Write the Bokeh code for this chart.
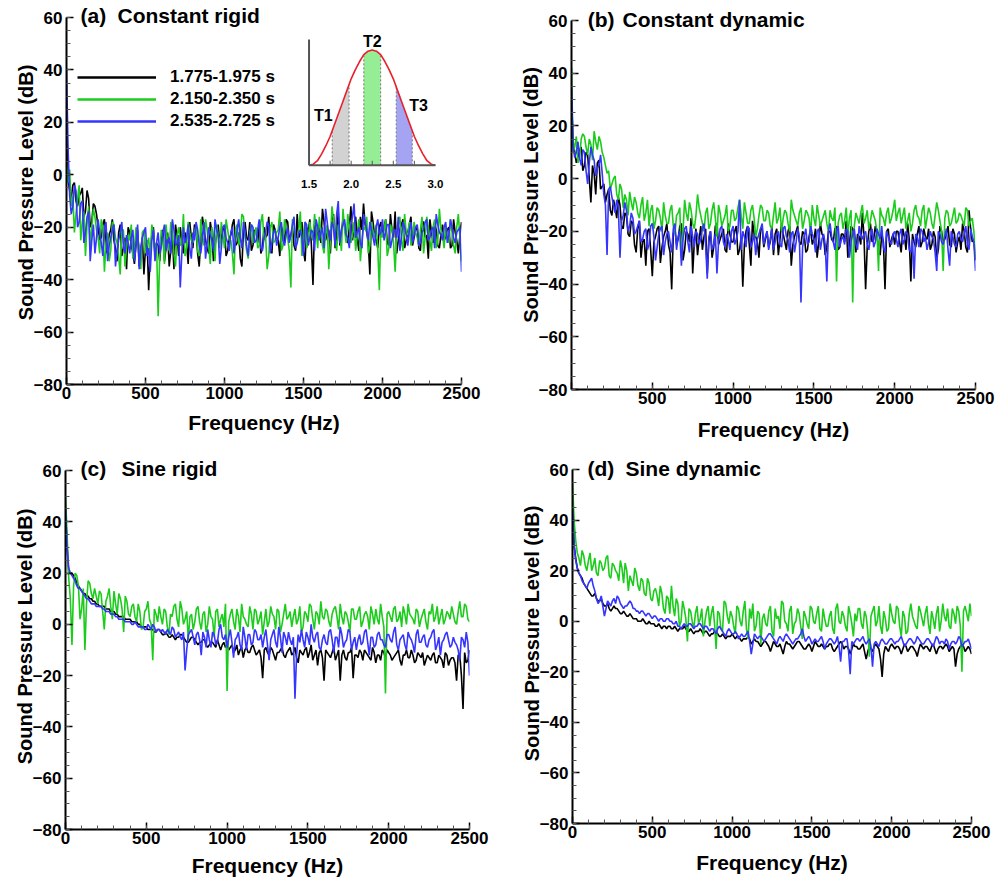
import numpy as np
from bokeh.plotting import figure
from bokeh.layouts import column, row
from bokeh.models import Range1d, Label, Legend, LegendItem, FixedTicker
from bokeh.embed import file_html
from bokeh.resources import INLINE
from bokeh.core.properties import value

# ---------------- data ----------------
# spectra read at 20 Hz steps (0..2500) plus the in-between 10 Hz readings (10..2490)
series_labels = ["1.775-1.975 s", "2.150-2.350 s", "2.535-2.725 s"]
series_colors = ["#000000", "#1ccc1c", "#3535ff"]

a_black = [20, -6, -4, -10, -8, -5, -14, -9, -18, -12,
           -20, -24, -17, -27, -21, -25, -33, -19, -28, -36,
           -22, -30, -26, -35, -24, -28, -44, -23, -31, -27,
           -25, -33, -22, -29, -36, -24, -20, -30, -26, -18,
           -28, -21, -35, -16, -25, -30, -22, -27, -19, -24,
           -20, -29, -23, -17, -26, -32, -21, -24, -18, -27,
           -22, -19, -28, -24, -16, -30, -21, -25, -20, -26,
           -18, -23, -27, -15, -22, -29, -20, -17, -42, -24,
           -19, -13, -25, -21, -17, -28, -14, -22, -19, -26,
           -12, -20, -24, -16, -11, -22, -38, -18, -25, -20,
           -23, -17, -27, -21, -14, -25, -19, -28, -22, -16,
           -24, -20, -29, -18, -23, -17, -26, -21, -28, -19,
           -24, -20, -27, -22, -30, -18]
a_black_mid = [-2, -9, -3, -12, -7, -16, -6, -20, -11, -15,
               -25, -19, -30, -23, -17, -28, -22, -31, -24, -20,
               -27, -34, -21, -29, -38, -25, -30, -20, -26, -33,
               -21, -28, -35, -23, -19, -31, -25, -22, -34, -24,
               -19, -30, -24, -20, -28, -18, -33, -23, -26, -21,
               -31, -24, -19, -27, -22, -35, -18, -25, -29, -21,
               -26, -30, -20, -23, -27, -19, -24, -31, -22, -17,
               -25, -20, -29, -24, -18, -33, -22, -27, -19, -23,
               -26, -18, -22, -30, -15, -23, -27, -17, -24, -20,
               -25, -16, -29, -21, -19, -26, -14, -23, -28, -18,
               -20, -26, -15, -24, -30, -21, -17, -25, -19, -27,
               -21, -28, -18, -24, -32, -22, -19, -27, -23, -25,
               -21, -28, -17, -25, -23]
a_green = [5, 2, -8, -15, -4, -18, -31, -12, -20, -16,
           -24, -17, -37, -22, -29, -19, -26, -38, -21, -28,
           -25, -32, -20, -27, -22, -30, -24, -19, -29, -54,
           -21, -34, -26, -18, -30, -23, -27, -15, -28, -22,
           -26, -19, -31, -24, -17, -27, -20, -33, -23, -18,
           -28, -21, -25, -38, -19, -24, -16, -29, -22, -26,
           -20, -27, -15, -23, -31, -18, -25, -21, -29, -17,
           -24, -43, -19, -26, -14, -22, -28, -18, -25, -21,
           -16, -27, -22, -36, -12, -24, -19, -29, -21, -15,
           -26, -18, -23, -33, -20, -16, -27, -22, -19, -44,
           -24, -17, -28, -21, -37, -19, -25, -15, -23, -27,
           -18, -24, -21, -30, -16, -25, -20, -28, -13, -23,
           -19, -26, -22, -30, -15, -33]
a_green_mid = [-3, -12, -22, -9, -25, -14, -19, -27, -13, -21,
               -30, -20, -26, -33, -18, -24, -31, -21, -35, -23,
               -19, -28, -24, -36, -21, -27, -33, -22, -26, -31,
               -24, -19, -29, -22, -35, -20, -26, -31, -18, -25,
               -22, -29, -17, -27, -21, -34, -24, -19, -28, -23,
               -17, -25, -30, -21, -27, -15, -24, -32, -19, -23,
               -28, -18, -25, -36, -20, -26, -22, -14, -27, -21,
               -29, -17, -24, -21, -31, -18, -26, -23, -15, -28,
               -22, -30, -19, -25, -17, -29, -23, -13, -26, -20,
               -23, -29, -17, -25, -21, -30, -18, -24, -28, -20,
               -21, -31, -19, -26, -23, -16, -29, -22, -18, -25,
               -22, -27, -16, -24, -20, -29, -17, -25, -21, -28,
               -23, -17, -27, -20, -24]
a_blue = [40, -8, -12, -6, -18, -10, -22, -14, -25, -30,
          -17, -26, -20, -33, -24, -19, -29, -22, -27, -23,
          -30, -21, -27, -36, -24, -20, -28, -25, -33, -22,
          -27, -19, -25, -30, -21, -26, -43, -20, -24, -28,
          -22, -18, -27, -24, -32, -20, -25, -17, -23, -28,
          -19, -26, -22, -30, -21, -24, -18, -27, -23, -20,
          -25, -17, -29, -22, -19, -26, -21, -24, -18, -27,
          -20, -23, -16, -26, -21, -31, -19, -24, -22, -17,
          -25, -20, -13, -23, -18, -27, -10, -21, -17, -24,
          -19, -11, -22, -26, -15, -21, -18, -24, -20, -23,
          -17, -22, -19, -25, -21, -16, -24, -20, -27, -18,
          -23, -19, -26, -21, -17, -24, -20, -15, -22, -25,
          -18, -23, -20, -26, -21, -37]
a_blue_mid = [10, -15, -4, -20, -11, -26, -16, -33, -19, -24,
              -22, -31, -18, -27, -21, -35, -25, -18, -30, -26,
              -24, -33, -19, -28, -22, -31, -37, -21, -26, -30,
              -22, -29, -24, -17, -27, -23, -30, -26, -19, -32,
              -25, -21, -30, -18, -26, -23, -29, -21, -34, -20,
              -24, -29, -20, -25, -17, -28, -22, -31, -19, -26,
              -21, -28, -24, -18, -30, -22, -27, -20, -25, -23,
              -26, -19, -28, -22, -24, -18, -27, -21, -29, -20,
              -22, -28, -18, -25, -20, -15, -26, -19, -23, -28,
              -16, -24, -20, -28, -18, -25, -21, -27, -17, -22,
              -25, -19, -28, -21, -24, -29, -18, -23, -21, -26,
              -20, -27, -22, -18, -25, -21, -28, -19, -23, -20,
              -26, -17, -24, -22, -20]

b_black = [30, 10, 8, 12, 5, 9, -9, 2, 6, -4,
           -2, -6, -12, -8, -15, -10, -19, -14, -22, -17,
           -28, -16, -24, -33, -19, -37, -22, -18, -26, -20,
           -25, -42, -19, -23, -17, -27, -21, -15, -24, -29,
           -18, -22, -36, -20, -26, -17, -23, -19, -28, -21,
           -24, -18, -27, -41, -20, -25, -16, -22, -30, -19,
           -23, -26, -18, -21, -29, -17, -24, -20, -33, -22,
           -18, -25, -21, -27, -19, -23, -30, -17, -22, -26,
           -20, -24, -18, -26, -21, -16, -25, -19, -28, -22,
           -13, -42, -20, -24, -18, -27, -21, -42, -19, -23,
           -25, -20, -28, -22, -17, -39, -24, -21, -26, -19,
           -23, -27, -20, -30, -18, -24, -21, -25, -19, -28,
           -22, -17, -26, -12, -24, -31]
b_black_mid = [14, 6, 11, 3, 10, 0, 5, -6, 7, -3,
               -9, -4, -14, -11, -7, -18, -13, -21, -16, -25,
               -19, -30, -23, -20, -27, -24, -19, -32, -22, -17,
               -28, -21, -25, -18, -31, -20, -24, -36, -19, -23,
               -27, -19, -24, -30, -18, -25, -21, -27, -17, -24,
               -20, -29, -22, -25, -18, -33, -21, -24, -19, -26,
               -20, -24, -29, -19, -23, -21, -27, -18, -25, -20,
               -24, -20, -28, -22, -25, -19, -24, -21, -29, -20,
               -23, -19, -27, -21, -24, -30, -18, -23, -21, -25,
               -22, -26, -17, -23, -21, -29, -24, -20, -26, -21,
               -20, -24, -19, -27, -23, -21, -26, -18, -24, -22,
               -19, -25, -22, -27, -20, -23, -18, -26, -21, -24,
               -27, -20, -28, -19, -23]
b_green = [42, 12, 6, 15, 16, 9, 13, 18, 11, 14,
           8, 2, -4, 0, -6, -2, -11, -8, -5, -12,
           -9, -15, -7, -13, -18, -10, -16, -12, -20, -14,
           -17, -10, -21, -13, -30, -8, -16, -12, -19, -6,
           -14, -20, -11, -17, -9, -22, -13, -16, -10, -18,
           -12, -15, -8, -19, -13, -17, -10, -22, -14, -11,
           -16, -13, -19, -9, -15, -20, -12, -17, -8, -14,
           -18, -11, -16, -13, -21, -15, -10, -18, -14, -17,
           -12, -16, -39, -14, -19, -11, -15, -47, -13, -17,
           -10, -15, -19, -12, -16, -35, -14, -18, -11, -15,
           -8, -13, -17, -11, -16, -20, -12, -14, -18, -10,
           -15, -13, -19, -9, -16, -35, -12, -18, -14, -17,
           -13, -16, -11, -18, -15, -30]
b_green_mid = [10, 16, 8, 17, 12, 15, 7, 14, 16, 10,
               5, 3, -2, 1, -8, -4, -6, -14, -9, -7,
               -13, -10, -16, -8, -12, -19, -11, -15, -9, -17,
               -12, -18, -14, -11, -20, -13, -9, -17, -14, -11,
               -17, -13, -19, -12, -15, -10, -18, -14, -20, -12,
               -16, -11, -14, -9, -17, -12, -15, -19, -10, -16,
               -12, -18, -14, -17, -11, -15, -13, -20, -12, -16,
               -13, -19, -12, -15, -10, -18, -14, -16, -12, -20,
               -15, -11, -17, -13, -16, -21, -12, -18, -15, -13,
               -17, -12, -16, -14, -20, -11, -15, -13, -17, -12,
               -16, -11, -14, -19, -13, -17, -10, -15, -12, -19,
               -11, -17, -14, -12, -20, -15, -13, -17, -11, -16,
               -14, -18, -12, -16, -20]
b_blue = [35, 8, 14, 5, 10, -2, 12, 7, 4, 9,
          -6, -29, -3, -10, -8, -30, -14, -12, -18, -15,
          -20, -16, -23, -19, -25, -17, -31, -21, -18, -24,
          -20, -28, -17, -22, -33, -19, -24, -18, -26, -21,
          -23, -17, -38, -20, -25, -36, -19, -24, -21, -27,
          -18, -23, -8, -20, -26, -19, -24, -29, -21, -17,
          -22, -27, -19, -24, -20, -26, -18, -23, -21, -28,
          -19, -47, -22, -25, -18, -23, -20, -27, -21, -39,
          -17, -24, -20, -26, -22, -19, -30, -21, -25, -18,
          -23, -20, -27, -19, -24, -21, -18, -28, -22, -25,
          -20, -26, -19, -23, -21, -28, -38, -22, -19, -24,
          -27, -20, -23, -35, -21, -25, -19, -33, -22, -26,
          -20, -24, -18, -27, -22, -35]
b_blue_mid = [12, 10, 8, 11, 3, 6, 9, 1, 5, 2,
              -10, -4, -7, -13, -11, -16, -9, -20, -13, -21,
              -18, -24, -20, -27, -18, -22, -26, -19, -29, -21,
              -24, -19, -27, -20, -23, -18, -28, -22, -20, -25,
              -19, -25, -22, -27, -21, -24, -18, -26, -23, -20,
              -25, -20, -27, -22, -18, -26, -21, -23, -19, -25,
              -20, -23, -27, -21, -25, -19, -22, -28, -20, -24,
              -22, -26, -19, -24, -21, -28, -19, -23, -25, -20,
              -22, -27, -18, -23, -25, -20, -24, -19, -27, -21,
              -21, -25, -22, -26, -19, -23, -26, -20, -24, -21,
              -23, -21, -25, -20, -27, -23, -21, -26, -20, -22,
              -24, -22, -28, -20, -24, -22, -27, -20, -25, -21,
              -23, -21, -25, -19, -24]

c_black = [45, 20, 20, 18, 15, 13, 12, 11, 10, 9,
           8, 7, 7, 6, 5, 5, 4, 3, 3, 2,
           2, 1, 1, 0, -1, -1, -2, -2, -3, -2,
           -4, -3, -5, -4, -6, -5, -4, -6, -7, -5,
           -6, -8, -7, -6, -9, -7, -8, -6, -10, -7,
           -8, -9, -11, -8, -10, -13, -9, -11, -8, -12,
           -10, -21, -9, -12, -10, -14, -11, -9, -13, -10,
           -12, -9, -15, -11, -10, -13, -8, -12, -16, -10,
           -22, -11, -13, -9, -12, -22, -10, -14, -11, -21,
           -12, -10, -14, -11, -13, -9, -15, -12, -10, -13,
           -11, -14, -12, -10, -16, -12, -13, -10, -15, -11,
           -13, -16, -12, -14, -11, -15, -13, -17, -12, -14,
           -13, -22, -12, -33, -15, -10]
c_black_mid = [30, 20, 19, 16, 14, 12, 11, 10, 9, 8,
               7, 7, 6, 6, 5, 4, 3, 3, 2, 2,
               1, 1, 0, -1, -1, -2, -2, -3, -2, -3,
               -4, -4, -5, -5, -5, -4, -5, -7, -6, -5,
               -7, -7, -6, -8, -8, -7, -9, -8, -8, -9,
               -10, -8, -10, -12, -9, -10, -11, -9, -10, -11,
               -13, -10, -11, -9, -12, -11, -10, -12, -11, -9,
               -11, -13, -10, -12, -9, -11, -14, -10, -11, -13,
               -10, -12, -11, -14, -10, -12, -13, -11, -9, -12,
               -13, -11, -10, -12, -14, -11, -12, -14, -11, -10,
               -12, -13, -11, -14, -12, -10, -13, -12, -14, -12,
               -11, -14, -13, -12, -15, -12, -14, -11, -16, -13,
               -15, -12, -20, -11, -14]
c_green = [50, 18, -8, 20, 15, 6, -10, 17, 12, 14,
           8, 12, -2, 11, 7, 13, 4, 10, -3, 9,
           3, 8, 1, 5, -1, 6, 2, -14, 4, 7,
           0, 5, -4, 3, 8, -1, 6, 2, -6, 4,
           1, 7, -2, 5, 0, 3, -5, 6, 2, -1,
           -26, 4, 1, 6, -3, 3, 0, 7, -2, 5,
           2, -4, 6, 1, 4, -2, 5, 0, 8, 3,
           -1, 6, 2, -3, 5, 1, 7, -2, 4, 9,
           2, 5, -1, 6, 3, 8, 0, 4, -3, 6,
           2, 7, 1, 5, -2, 4, 6, 0, 3, -27,
           5, 1, 7, 2, -1, 4, 8, 3, 0, 5,
           2, 6, -2, 4, 1, 7, 3, 0, 5, 2,
           4, 0, 9, 3, 7, 1]
c_green_mid = [35, 10, 15, 19, 2, 14, 8, 16, 10, 11,
               13, 5, 9, 14, 2, 8, 12, 6, 11, 4,
               7, 3, 8, -2, 5, 9, 0, 6, 1, 3,
               6, -1, 4, 7, 2, 9, 0, 5, 3, -2,
               6, 1, 4, -3, 7, 2, 5, -1, 4, 8,
               1, 6, -2, 3, 8, 2, -1, 4, 6, 0,
               5, 1, -1, 7, 3, 6, -3, 4, 2, 5,
               3, 0, 7, -1, 4, 8, 2, 5, 0, 3,
               6, 1, 4, 7, -2, 3, 5, 1, 6, 2,
               5, -1, 4, 3, 7, 0, 2, 8, -1, 4,
               3, 6, 1, 5, 7, 0, 4, 2, 6, -1,
               4, 1, 5, 8, 3, 0, 6, 2, 4, 7,
               1, 5, 3, 8, 2]
c_blue = [45, 22, 19, 17, 14, 13, 11, 10, 8, 8,
          7, 7, 6, 5, 4, 4, 3, 2, 2, 1,
          1, 0, 0, -1, -1, -2, -1, 0, -3, -2,
          -2, -4, -3, -1, -5, -3, -6, -18, -4, -2,
          -8, -3, -12, -5, -2, -9, -4, -7, 0, -6,
          -9, -2, -13, -5, -8, -1, -10, -4, -7, -3,
          -6, -9, -2, -14, -4, -7, -1, -11, -5, -3,
          -8, -29, -4, -2, -9, -5, 0, -7, -3, -10,
          -4, -8, -2, -11, -5, -1, -9, -6, -3, -7,
          -10, -4, -7, -2, -12, -5, -8, -3, -6, -9,
          -4, -7, -1, -10, -5, -8, -3, -6, -11, -2,
          -7, -4, -9, -5, -2, -8, -12, -6, -3, -9,
          -5, -8, -14, -6, -3, -20]
c_blue_mid = [30, 20, 18, 15, 14, 12, 10, 9, 8, 7,
              7, 6, 5, 5, 4, 3, 2, 2, 1, 1,
              0, 1, -1, -1, -2, 0, -2, -1, -2, -3,
              -3, -2, -4, -2, -4, -5, -3, -10, -3, -5,
              -4, -6, -3, -9, -6, -3, -8, -2, -5, -4,
              -5, -7, -6, -3, -10, -5, -4, -8, -2, -6,
              -4, -5, -8, -6, -2, -9, -5, -3, -8, -6,
              -5, -12, -7, -6, -3, -8, -5, -4, -9, -6,
              -7, -3, -6, -5, -9, -4, -7, -2, -10, -5,
              -6, -8, -3, -7, -5, -9, -4, -6, -8, -4,
              -6, -3, -8, -6, -4, -10, -5, -8, -4, -7,
              -5, -8, -6, -3, -10, -5, -7, -4, -6, -8,
              -7, -10, -5, -9, -7]

d_black = [50, 25, 19, 17, 14, 12, 10, 11, 8, 9,
           6, 7, 4, 6, 5, 3, 4, 2, 3, 1,
           1, 0, 1, -1, 0, -1, -2, -1, -3, -2,
           -2, -3, -2, -4, -3, -2, -4, -3, -5, -4,
           -3, -5, -4, -6, -5, -4, -6, -5, -7, -6,
           -5, -7, -6, -8, -7, -6, -9, -7, -8, -10,
           -8, -9, -12, -8, -10, -9, -13, -8, -9, -11,
           -9, -8, -10, -11, -9, -12, -8, -10, -9, -11,
           -10, -9, -12, -10, -8, -11, -10, -13, -9, -10,
           -11, -9, -15, -10, -12, -9, -11, -22, -10, -12,
           -9, -11, -10, -13, -9, -12, -10, -11, -14, -9,
           -11, -10, -12, -9, -13, -10, -11, -9, -12, -10,
           -18, -11, -9, -12, -10, -13]
d_black_mid = [30, 21, 18, 15, 13, 11, 10, 9, 8, 7,
               6, 5, 5, 5, 4, 3, 3, 2, 2, 1,
               0, 0, 0, -1, -1, -1, -2, -2, -2, -3,
               -2, -3, -3, -3, -3, -3, -4, -4, -4, -4,
               -4, -4, -5, -5, -4, -5, -6, -6, -6, -6,
               -6, -6, -7, -7, -7, -7, -8, -8, -9, -9,
               -8, -10, -10, -9, -10, -11, -10, -9, -10, -10,
               -8, -9, -11, -10, -10, -10, -9, -10, -10, -10,
               -9, -11, -11, -9, -9, -10, -11, -11, -10, -11,
               -10, -12, -12, -11, -10, -10, -15, -13, -11, -10,
               -10, -10, -11, -11, -10, -11, -10, -12, -11, -10,
               -10, -11, -10, -11, -11, -10, -10, -10, -11, -11,
               -13, -10, -10, -11, -11]
d_green = [55, 32, 25, 28, 22, 24, 20, 25, 18, 23,
           21, 26, 17, 22, 19, 24, 15, 20, 18, 14,
           19, 12, 16, 10, 15, 8, 13, 6, 11, 3,
           9, 14, 2, 7, 0, 5, -8, 4, -3, 6,
           1, -6, 4, -2, 6, -11, 3, -4, 7, -1,
           2, -5, 5, -2, 8, -7, 1, -4, 4, -9,
           3, -2, 6, -6, 1, -3, 7, -1, 4, -5,
           0, 3, -7, 2, -3, 5, -1, 6, -4, 1,
           -2, 4, -5, 7, -1, 2, -4, 3, -6, 0,
           5, -3, 2, -14, 4, -2, 6, -5, 1, -3,
           3, -1, 5, -6, 2, -4, 7, 0, -3, 4,
           -2, 6, -5, 1, 3, -4, 7, 0, -2, 5,
           -1, 4, -20, 6, 0, 2]
d_green_mid = [40, 27, 22, 26, 20, 27, 22, 19, 24, 20,
               25, 18, 23, 20, 16, 21, 23, 12, 16, 21,
               14, 17, 11, 17, 9, 12, 10, 14, 5, 10,
               3, 6, 9, -2, 8, 1, 5, 0, 3, -1,
               5, 0, 6, 3, -1, 4, -3, 8, 2, 4,
               -2, 6, 0, 4, -3, 5, 7, -2, 3, 1,
               -1, 4, -4, 5, 2, 8, 0, -4, 6, -1,
               5, -2, 4, -1, 6, 0, 3, -3, 5, -2,
               2, -3, 5, 0, 4, -2, 6, -1, 3, 5,
               -1, 4, -4, 2, 6, 0, -2, 4, -4, 7,
               0, 6, -2, 4, -5, 3, 2, -2, 6, 1,
               3, -1, 4, -3, 6, 0, 2, 5, -3, 3,
               6, -2, 4, 3, 7]
d_blue = [45, 24, 19, 16, 14, 15, 17, 12, 7, 10,
          2, 8, 6, 9, 10, 7, 5, 6, 8, 5,
          4, 3, 4, 2, 3, 1, 2, 0, 1, 0,
          1, 0, -1, -2, -3, -1, -2, -1, -3, -2,
          -1, -3, -2, -4, -3, -5, -2, -4, -6, -3,
          -5, -4, -7, -5, -6, -4, -13, -5, -7, -6,
          -8, -6, -5, -7, -9, -6, -8, -5, -7, -9,
          -7, -6, -3, -8, -6, -9, -7, -8, -6, -11,
          -8, -7, -9, -6, -16, -8, -7, -21, -9, -7,
          -8, -6, -9, -7, -18, -8, -10, -7, -9, -8,
          -7, -9, -8, -6, -10, -8, -7, -9, -6, -8,
          -9, -7, -8, -10, -6, -9, -8, -7, -11, -8,
          -9, -6, -10, -8, -7, -11]
d_blue_mid = [30, 21, 18, 15, 13, 16, 14, 9, 8, 6,
              5, 7, 8, 7, 9, 6, 6, 7, 7, 5,
              4, 4, 3, 3, 2, 2, 1, 1, 0, 1,
              0, -1, 0, -2, -2, -2, -1, -2, -2, -1,
              -2, -2, -3, -3, -4, -3, -3, -5, -4, -4,
              -5, -5, -6, -6, -5, -8, -9, -6, -6, -7,
              -7, -5, -6, -8, -7, -7, -6, -6, -8, -8,
              -7, -5, -6, -7, -7, -8, -8, -7, -8, -9,
              -7, -8, -8, -10, -8, -7, -12, -8, -8, -7,
              -7, -8, -8, -10, -9, -9, -8, -8, -9, -7,
              -8, -8, -7, -8, -9, -7, -8, -8, -7, -9,
              -8, -7, -9, -8, -7, -8, -9, -8, -9, -8,
              -8, -7, -9, -8, -9]

# inset: schematic inflow profile over time (s) and the three windows
inset_t = [1.5 + 0.05 * k for k in range(31)]
inset_u = [0, 0.01, 0.04, 0.10, 0.17, 0.25, 0.35, 0.45, 0.55, 0.65, 0.75,
           0.83, 0.90, 0.96, 0.99, 1.0, 0.99, 0.96, 0.90, 0.83, 0.75,
           0.65, 0.55, 0.45, 0.35, 0.25, 0.17, 0.10, 0.04, 0.01, 0]
windows = [(1.775, 1.975), (2.150, 2.350), (2.535, 2.725)]
window_fill = ["#d2d2d2", "#95ee95", "#a4a4f2"]
window_names = ["T1", "T2", "T3"]
inset_ticks = [1.5, 2.0, 2.5, 3.0]

x_major = [0, 500, 1000, 1500, 2000, 2500]
x_minor = list(range(0, 2501, 100))
y_major = [-80, -60, -40, -20, 0, 20, 40, 60]
y_minor = list(range(-80, 61, 5))

freq = list(range(0, 2501, 10))


def merge(base, mid):
    out = []
    for b, m in zip(base[:-1], mid):
        out += [b, m]
    return out + [base[-1]]


FONT = "Liberation Sans"

# geom: left border, frame width, right border, top offset (to the 60 dB line),
#       frame height (60..-80), bottom border ; xls = x axis label standoff
panels = [
    dict(tag="(a)", title="Constant rigid",
         data=[(a_black, a_black_mid), (a_green, a_green_mid), (a_blue, a_blue_mid)],
         geom=(66, 395, 39, 17, 367, 54), xls=9,
         tag_x=89, title_x=323, title_y=60.6, zero=True),
    dict(tag="(b)", title="Constant dynamic",
         data=[(b_black, b_black_mid), (b_green, b_green_mid), (b_blue, b_blue_mid)],
         geom=(71, 404, 25, 20, 369, 49), xls=11,
         tag_x=100, title_x=316, title_y=60.3, zero=False),
    dict(tag="(c)", title="Sine rigid",
         data=[(c_black, c_black_mid), (c_green, c_green_mid), (c_blue, c_blue_mid)],
         geom=(65, 404, 31, 27, 359, 47), xls=7,
         tag_x=93, title_x=347, title_y=60.8, zero=True),
    dict(tag="(d)", title="Sine dynamic",
         data=[(d_black, d_black_mid), (d_green, d_green_mid), (d_blue, d_blue_mid)],
         geom=(72, 399, 29, 26, 354, 53), xls=10,
         tag_x=94, title_x=332, title_y=60.5, zero=True),
]


def make_panel(cfg):
    left, fw, right, top, fh, bottom = cfg["geom"]
    ext = top  # frame extends above the 60 dB line so the panel titles are not clipped
    y_end = 60 + ext * 140.0 / fh
    p = figure(frame_width=fw, frame_height=fh + ext,
               min_border_left=left, min_border_right=right,
               min_border_top=0, min_border_bottom=bottom,
               x_range=Range1d(0, 2500), y_range=Range1d(-80, y_end),
               output_backend="svg", toolbar_location=None,
               background_fill_color="white", border_fill_color="white")
    p.outline_line_color = None
    p.grid.visible = False
    p.xaxis.ticker = FixedTicker(ticks=x_major, minor_ticks=x_minor)
    p.yaxis.ticker = FixedTicker(ticks=y_major, minor_ticks=y_minor)
    p.yaxis.bounds = (-80, 60)
    p.xaxis.axis_label = "Frequency (Hz)"
    p.yaxis.axis_label = "Sound Pressure Level (dB)"
    if not cfg["zero"]:
        p.xaxis.major_label_overrides = {0: ""}
    for ax in (p.xaxis[0], p.yaxis[0]):
        ax.axis_line_width = 2
        ax.axis_line_color = "black"
        ax.major_tick_in = 7
        ax.major_tick_out = 0
        ax.minor_tick_in = 4
        ax.minor_tick_out = 0
        ax.major_tick_line_width = 1.5
        ax.major_tick_line_color = "black"
        ax.minor_tick_line_color = "#555555"
        ax.major_label_text_font = FONT
        ax.major_label_text_font_style = "bold"
        ax.major_label_text_font_size = "17px"
        ax.major_label_text_color = "black"
        ax.axis_label_text_font = FONT
        ax.axis_label_text_font_style = "bold"
        ax.axis_label_text_color = "black"
    p.xaxis.axis_label_text_font_size = "21px"
    p.yaxis.axis_label_text_font_size = "20px"
    p.xaxis.major_label_standoff = 2
    p.xaxis.axis_label_standoff = cfg["xls"]
    p.yaxis.major_label_standoff = 4
    p.yaxis.axis_label_standoff = -6

    for (base, mid), col in zip(cfg["data"], series_colors):
        p.line(freq, merge(base, mid), line_color=col, line_width=1.6)

    for txt, x in ((cfg["tag"], cfg["tag_x"]), (cfg["title"], cfg["title_x"])):
        p.add_layout(Label(x=x, y=cfg["title_y"], text=txt, text_font=FONT,
                           text_font_style="bold", text_font_size="21px",
                           text_baseline="middle", text_color="black"))
    return p


figs = [make_panel(c) for c in panels]
pa = figs[0]

# legend in panel (a) (thicker sample lines than the data lines)
items = []
for lab, col in zip(series_labels, series_colors):
    r = pa.line(x=np.array([0.0]), y=np.array([np.nan]), line_color=col, line_width=2.6)
    items.append(LegendItem(label=lab, renderers=[r]))
leg = Legend(items=items, location=(11, 253), glyph_width=79, glyph_height=20,
             label_height=20, label_standoff=14, spacing=2, padding=0, margin=0,
             label_text_font=FONT, label_text_font_style="bold",
             label_text_font_size="17px", label_text_color="black",
             background_fill_alpha=0, border_line_color=None)
pa.add_layout(leg)

# inset in panel (a)
xy = pa.subplot(x_source=Range1d(1.5, 3.0), y_source=Range1d(0, 1),
                x_target=Range1d(1535, 2335), y_target=Range1d(3.6, 47.6))
t_arr = np.array(inset_t)
u_arr = np.array(inset_u)
for (a, b), fc in zip(windows, window_fill):
    inside = (t_arr > a) & (t_arr < b)
    xs = np.concatenate([[a], t_arr[inside], [b]])
    ys = np.interp(xs, t_arr, u_arr)
    xy.varea(x=xs, y1=np.zeros_like(xs), y2=ys, fill_color=fc)
    for edge in (a, b):
        xy.segment(x0=[edge], y0=[0], x1=[edge], y1=[float(np.interp(edge, t_arr, u_arr))],
                   line_color="#777777", line_width=1, line_dash="2 2")
xy.line(inset_t, inset_u, line_color="#e8202a", line_width=1.6)
xy.segment(x0=[1.5], y0=[0], x1=[1.5], y1=[1.09], line_color="#555555", line_width=2)
xy.segment(x0=[1.5], y0=[0], x1=[3.0], y1=[0], line_color="#555555", line_width=2)
xy.segment(x0=[1.75, 2.0, 2.25, 2.5, 2.75], y0=[0] * 5,
           x1=[1.75, 2.0, 2.25, 2.5, 2.75], y1=[0.04] * 5, line_color="#555555", line_width=1)
xy.text(x=inset_ticks, y=[-0.16] * 4, text=[f"{v:.1f}" for v in inset_ticks],
        text_font=value(FONT), text_font_style="bold", text_font_size="11.5px",
        text_align="center", text_baseline="middle", text_color="black")
xy.text(x=[1.67, 2.25, 2.80], y=[0.43, 1.07, 0.52], text=window_names,
        text_font=value(FONT), text_font_style="bold", text_font_size="16px",
        text_align="center", text_baseline="middle", text_color="black")

layout = column(row(figs[0], figs[1]), row(figs[2], figs[3]))
open("out.html", "w").write(file_html(layout, INLINE))
